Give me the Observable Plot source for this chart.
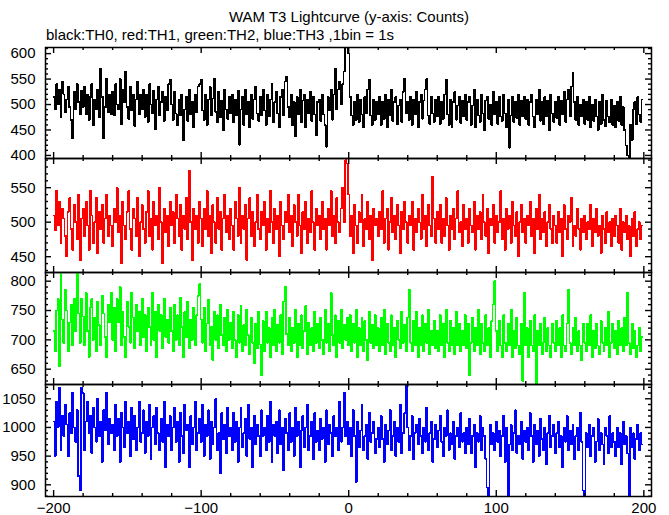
<!DOCTYPE html>
<html><head><meta charset="utf-8">
<script src="https://cdn.jsdelivr.net/npm/d3@7"></script>
<script src="https://cdn.jsdelivr.net/npm/@observablehq/plot@0.6"></script>
<style>
body{margin:0;background:#fff;width:669px;height:515px;position:relative;overflow:hidden;font-family:"Liberation Sans",Arial,Helvetica,sans-serif;color:#000;}
.t{position:absolute;font-size:15px;line-height:15px;white-space:nowrap;}
#title{left:0;width:698px;text-align:center;top:9px;}
#sub{left:46px;top:27px;}
svg{position:absolute;left:0;}
</style></head><body>
<div id="title" class="t">WAM T3 Lightcurve (y-axis: Counts)</div>
<div id="sub" class="t">black:TH0, red:TH1, green:TH2, blue:TH3 ,1bin = 1s</div>
<script>
// bin start times (s), 1 bin = 1 s
const timeStart = -200, timeEnd = 199;
const xLabels = [-200, -100, 0, 100, 200];

const th0 = [
515,490,540,500,530,475,545,520,485,510,535,495,470,433,525,490,540,505,480,528,
495,535,480,520,470,515,540,460,510,490,530,475,571,515,433,495,550,485,520,480,
525,478,540,500,490,550,462,530,505,565,495,472,535,488,520,458,510,545,480,520,
490,530,475,520,465,540,500,482,528,452,510,535,478,505,525,468,515,488,540,549,
500,470,525,482,460,510,478,520,430,490,515,468,530,480,505,455,520,485,535,540,
549,488,470,520,460,510,535,478,512,550,485,465,525,475,508,450,530,490,472,515,
482,520,465,510,478,528,421,490,515,460,530,480,505,455,520,472,510,535,482,468,
515,478,530,488,460,520,476,510,540,465,505,525,482,455,515,530,478,545,555,495,
475,520,460,505,437,515,480,530,465,508,520,455,510,482,525,468,515,480,440,505,
510,468,520,480,460,417,515,488,530,470,520,571,490,530,545,500,540,565,615,615,
600,515,478,460,505,470,520,465,510,480,455,515,482,530,549,478,460,510,470,505,
480,515,460,505,472,520,455,510,478,530,468,505,515,462,498,510,466,525,551,482,
505,470,515,460,510,480,525,455,505,520,472,508,530,550,478,462,515,482,466,510,
476,515,462,505,472,520,549,480,460,510,455,505,525,470,498,515,464,508,476,520,
470,505,515,460,498,530,455,510,478,466,520,482,450,508,515,472,500,460,525,480,
505,462,515,476,468,520,482,455,510,415,478,515,466,505,474,520,460,508,476,515,
472,510,460,505,520,476,455,510,480,530,468,505,462,515,476,508,450,520,482,466,
505,474,515,460,508,480,525,466,510,530,476,535,562,505,470,515,460,500,476,510,
462,505,470,515,455,500,468,510,476,450,505,462,520,470,458,508,476,465,510,460,
498,455,505,468,515,460,495,450,420,400,395,460,430,490,505,462,515,480,466,510
];
const th1 = [
510,488,545,495,530,470,520,505,480,450,515,535,490,460,525,500,475,540,445,505,
520,480,530,495,460,545,510,470,500,535,455,515,490,525,470,505,540,480,510,495,
465,520,500,550,485,510,440,530,495,475,515,545,490,460,520,505,480,535,450,500,
525,490,470,515,545,480,505,460,530,495,510,475,550,500,440,520,485,510,465,530,
495,515,470,540,505,480,525,460,510,490,535,475,575,500,445,520,490,510,470,530,
505,465,520,490,545,480,510,455,525,500,470,535,490,515,460,505,540,485,510,475,
520,495,460,530,505,480,550,470,510,490,525,445,505,535,480,515,465,500,540,490,
475,515,495,530,460,505,485,545,500,470,520,490,510,450,530,495,475,515,500,540,
485,510,465,525,500,480,540,495,455,515,490,530,470,505,485,545,500,460,520,495,
510,475,530,490,505,460,520,495,545,480,510,470,535,500,485,520,550,500,590,585,
540,480,510,455,525,495,470,515,500,540,465,505,490,530,475,510,445,520,495,505,
480,515,490,545,470,505,520,460,500,535,485,510,475,525,495,455,515,490,530,500,
470,510,495,530,460,505,485,520,500,475,540,490,510,465,525,495,480,566,505,470,
515,490,525,470,505,480,535,495,460,510,490,520,475,505,545,485,500,465,525,490,
505,470,520,495,485,530,460,510,490,515,475,540,500,480,520,455,505,495,525,470,
510,485,500,545,475,505,460,520,490,510,470,530,495,480,515,450,500,525,485,505,
470,510,495,530,480,505,455,520,490,540,475,505,485,515,465,500,525,490,470,510,
495,470,515,485,505,450,525,490,475,510,500,535,465,495,480,520,490,460,505,485,
510,475,500,490,525,465,505,485,520,480,495,455,510,490,470,515,485,500,465,505,
480,510,495,470,520,460,500,485,510,475,495,450,505,480,515,465,490,500,475,495
];
const th2 = [
715,680,750,770,655,815,735,695,785,750,680,730,760,690,770,715,815,745,695,770,
740,690,780,715,670,755,770,700,738,680,765,725,690,775,745,705,670,760,730,780,
700,755,680,770,730,790,690,748,705,670,765,722,695,780,738,685,760,715,748,690,
770,705,742,680,755,722,690,780,700,748,670,760,715,742,685,770,705,735,695,755,
715,680,760,700,742,690,772,722,670,748,705,765,685,735,700,755,690,742,775,795,
735,695,755,680,728,768,690,722,665,748,700,742,685,760,708,690,738,680,752,700,
730,685,748,700,670,742,695,758,680,725,690,752,708,675,738,695,660,728,685,748,
692,640,732,680,748,695,720,670,738,690,752,680,726,695,742,675,765,790,710,690,
738,680,720,695,752,670,728,690,742,685,715,758,675,730,690,720,680,748,695,728,
685,738,700,675,752,695,728,680,780,708,690,742,670,732,695,752,685,726,700,738,
690,742,680,728,695,752,670,720,690,738,680,732,700,665,748,695,726,685,742,690,
720,680,738,690,752,675,728,695,680,742,690,720,670,732,700,685,748,695,726,680,
738,785,695,680,732,690,748,670,720,690,742,680,728,695,752,675,715,690,732,685,
715,680,742,690,728,670,752,695,680,732,690,720,675,748,690,728,680,715,690,742,
685,728,640,695,738,680,720,690,752,675,728,695,680,742,690,720,670,732,760,800,
715,680,732,690,670,742,695,680,728,690,752,670,715,685,738,690,675,728,630,780,
690,720,670,732,690,680,742,625,715,690,728,675,695,738,680,720,690,670,728,695,
680,732,690,720,670,742,690,680,728,785,695,675,720,690,738,680,715,690,665,728,
695,680,728,690,742,670,715,685,728,690,675,732,695,680,720,690,748,670,695,728,
685,715,675,732,690,720,680,738,690,780,695,675,728,685,715,670,690,720,680,705
];
const th3 = [
1010,950,1045,1000,1070,960,1020,985,1040,1005,950,1025,990,1060,1000,975,1030,915,890,1070,
1060,960,1010,1045,990,1020,955,1035,1000,975,1050,985,1010,940,1030,995,1060,970,1015,990,
1005,960,1040,985,1015,940,1025,1000,965,1045,990,1010,950,1035,980,1020,960,1000,1045,975,
990,1030,955,1010,985,1040,945,1000,1020,970,1035,990,960,1015,975,1045,930,1005,985,1020,
960,1000,1035,975,1010,940,1025,985,955,1040,995,1005,930,1020,970,1000,1045,960,990,1015,
975,1040,950,1005,985,1030,945,1010,970,1000,1050,960,990,920,1025,980,1005,955,1035,985,
1000,960,1025,975,1010,940,1000,1035,965,990,1015,950,1040,980,1000,930,1020,970,1005,985,
950,1030,985,1000,960,1020,975,1045,940,1005,985,1010,955,1030,970,1000,925,1015,990,960,
1025,975,1000,950,1035,985,1010,930,995,1020,965,1000,1040,960,985,1010,945,1025,975,995,
960,1015,980,1000,940,1030,970,1005,990,950,1020,985,1000,960,1045,975,1000,1060,985,1010,
970,1000,950,1030,985,905,1010,965,995,1040,960,985,1005,945,1025,975,990,1010,955,980,
1000,965,1020,980,940,1005,970,995,1030,960,985,1010,950,1000,975,1040,955,990,1025,1074,
1000,960,985,1020,945,990,1005,970,1015,985,955,1000,975,1035,960,990,1010,940,980,1005,
965,995,1020,975,950,1000,985,1030,960,990,970,1010,945,985,1000,965,1025,975,990,955,
1000,970,1015,955,985,1005,930,990,975,1020,960,1000,985,945,895,880,1005,970,990,960,
1010,975,995,950,985,1020,940,1000,880,970,1005,960,990,1030,955,985,970,1010,945,995,
975,1000,960,1025,985,940,1005,970,995,950,1015,980,960,1000,935,990,1020,965,985,1005,
955,990,1010,965,985,930,1000,975,1020,960,995,970,1005,945,985,1000,960,1025,975,890,
880,990,965,1005,950,985,1000,940,975,1015,960,990,970,935,1000,985,955,1020,965,990,
975,950,1000,965,990,935,1010,970,985,955,880,1000,965,990,945,980,1005,960,990,970
];

const th0Labels = [400, 450, 500, 550, 600];
const th1Labels = [450, 500, 550];
const th2Labels = [650, 700, 750, 800];
const th3Labels = [900, 950, 1000, 1050];

const W = 669, mL = 45, mR = 18;
const xDomain = [-205.5, 205.2];
const times = d3.range(timeStart, timeEnd + 1);

const panels = [
  {values: th0, color: "#000000", domain: [394, 612], top: 47, bottom: 158, labels: th0Labels},
  {values: th1, color: "#ff0000", domain: [427.1, 592.3], top: 158, bottom: 272, labels: th1Labels},
  {values: th2, color: "#00ff00", domain: [623.9, 814.8], top: 272, bottom: 384, labels: th2Labels},
  {values: th3, color: "#0000ff", domain: [879.6, 1074.9], top: 384, bottom: 496, labels: th3Labels}
];

const xMajor = d3.range(-200, 201, 100);
const xMinor = d3.range(-200, 201, 20).filter(d => d % 100 !== 0);

panels.forEach((p, i) => {
  const last = i === panels.length - 1;
  const mt = 8, mb = last ? 19 : 8;
  const h = p.bottom - p.top;
  const upp = (p.domain[1] - p.domain[0]) / h;
  const xupp = (xDomain[1] - xDomain[0]) / (W - mL - mR);
  const [y0, y1] = p.domain;
  const x0 = xDomain[0], x1 = xDomain[1];
  const yMajor = d3.range(Math.ceil(y0 / 50) * 50, y1, 50);
  const yMinor = d3.range(Math.ceil(y0 / 10) * 10, y1, 10).filter(d => d % 50 !== 0);
  const rows = times.map((t, j) => ({t, v: p.values[j]}));
  const tk = {stroke: "black", strokeWidth: 1.4};
  const marks = [
    Plot.line(rows, {x: "t", y: "v", stroke: p.color, strokeWidth: 1.5, curve: "step", shapeRendering: "crispEdges"}),
    // x ticks, inward on top and bottom
    Plot.ruleX(xMajor, {x: d => d, y1: () => y1, y2: () => y1 - 6 * upp, ...tk}),
    Plot.ruleX(xMajor, {x: d => d, y1: () => y0, y2: () => y0 + 6 * upp, ...tk}),
    Plot.ruleX(xMinor, {x: d => d, y1: () => y1, y2: () => y1 - 3 * upp, ...tk}),
    Plot.ruleX(xMinor, {x: d => d, y1: () => y0, y2: () => y0 + 3 * upp, ...tk}),
    // y ticks, inward on left and right
    Plot.ruleY(yMajor, {y: d => d, x1: () => x0, x2: () => x0 + 6 * xupp, ...tk}),
    Plot.ruleY(yMajor, {y: d => d, x1: () => x1, x2: () => x1 - 6 * xupp, ...tk}),
    Plot.ruleY(yMinor, {y: d => d, x1: () => x0, x2: () => x0 + 3 * xupp, ...tk}),
    Plot.ruleY(yMinor, {y: d => d, x1: () => x1, x2: () => x1 - 3 * xupp, ...tk}),
    Plot.frame({stroke: "black", strokeWidth: 1.5}),
    Plot.text(p.labels, {x: () => x0, y: d => d, text: d => String(d), textAnchor: "end", dx: -10, fontSize: 15, fill: "black"})
  ];
  if (last) {
    marks.push(Plot.text(xLabels, {x: d => d, y: () => y0, text: d => d < 0 ? "\u2212" + Math.abs(d) : String(d), dy: 11.5, fontSize: 15, fill: "black"}));
  }
  const svg = Plot.plot({
    width: W,
    height: h + mt + mb,
    marginLeft: mL, marginRight: mR, marginTop: mt, marginBottom: mb,
    style: {background: "transparent", overflow: "visible", fontFamily: "'Liberation Sans', Arial, Helvetica, sans-serif", fontSize: "15px", color: "black"},
    x: {domain: xDomain, axis: null},
    y: {domain: p.domain, axis: null, clamp: true},
    marks
  });
  svg.style.position = "absolute";
  svg.style.left = "0px";
  svg.style.top = (p.top - mt) + "px";
  document.body.appendChild(svg);
});
</script>
</body></html>
